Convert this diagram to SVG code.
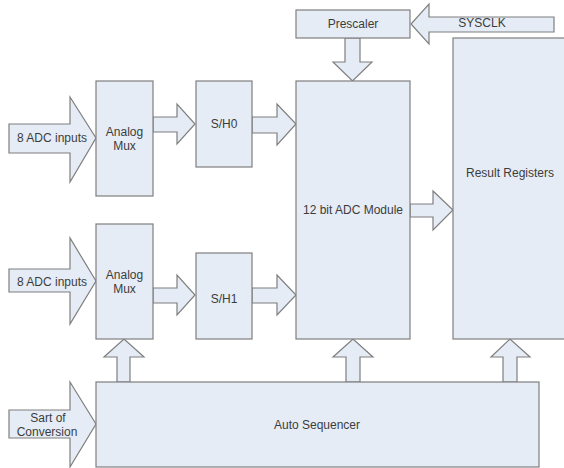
<svg xmlns="http://www.w3.org/2000/svg" width="564" height="468" viewBox="0 0 564 468">
<style>
.b{fill:#e5ecf6;stroke:#7f7f7f;stroke-width:1.2}
.a{fill:#e5ecf6;stroke:#7f7f7f;stroke-width:1.2;stroke-linejoin:miter}
text{font-family:"Liberation Sans",Arial,sans-serif;font-size:12px;fill:#3c3c3c;text-anchor:middle}
</style>
<rect width="564" height="468" fill="#fff"/>
<g id="connectors">
<polygon class="a" points="9,124 70,124 70,97 96,138 70,182 70,153 9,153"/>
<polygon class="a" points="9,269 70,269 70,238 96,281 70,324 70,292 9,292"/>
<polygon class="a" points="9,410 70,410 70,382 96,424 70,467 70,438 9,438"/>
<polygon class="a" points="153,117 177,117 177,104 195,124 177,144 177,132 153,132"/>
<polygon class="a" points="252,117 277,117 277,104 296,124 277,145 277,133 252,133"/>
<polygon class="a" points="153,288 177,288 177,275 195,295 177,315 177,303 153,303"/>
<polygon class="a" points="252,288 277,288 277,275 296,295 277,315 277,303 252,303"/>
<polygon class="a" points="554,17 429,17 429,4 411,24 429,44 429,32 554,32"/>
<polygon class="a" points="345,38 360,38 360,62 372,62 352.5,81 333,62 345,62"/>
<polygon class="a" points="410,204 433,204 433,191 453,210 433,230 433,217 410,217"/>
<polygon class="a" points="117,382 117,357 104,357 124,339 144,357 130,357 130,382"/>
<polygon class="a" points="346,382 346,357 333,357 353,339 373,357 360,357 360,382"/>
<polygon class="a" points="503,382 503,357 491,357 510,339 530,357 517,357 517,382"/>
</g>
<g id="mux0"><rect class="b" x="96" y="81" width="57" height="115"/><text x="124.5" y="136">Analog</text><text x="124.5" y="150">Mux</text></g>
<g id="mux1"><rect class="b" x="96" y="224" width="57" height="115"/><text x="124.5" y="279">Analog</text><text x="124.5" y="293">Mux</text></g>
<g id="sh0"><rect class="b" x="196" y="81" width="56" height="86"/><text x="224" y="128">S/H0</text></g>
<g id="sh1"><rect class="b" x="196" y="253" width="56" height="86"/><text x="224" y="303">S/H1</text></g>
<g id="prescaler"><rect class="b" x="296" y="10" width="114" height="28"/><text x="353" y="28">Prescaler</text></g>
<g id="adc"><rect class="b" x="296" y="81" width="114" height="258"/><text x="353" y="214">12 bit ADC Module</text></g>
<g id="result"><rect class="b" x="453" y="38" width="120" height="301"/><text x="510" y="177">Result Registers</text></g>
<g id="seq"><rect class="b" x="96" y="382" width="443" height="85"/><text x="317" y="429">Auto Sequencer</text></g>
<g id="labels">
<text x="52" y="142">8 ADC inputs</text>
<text x="52" y="286">8 ADC inputs</text>
<text x="48" y="422">Sart of</text>
<text x="47" y="436">Conversion</text>
<text x="482" y="27">SYSCLK</text>
</g>
</svg>
